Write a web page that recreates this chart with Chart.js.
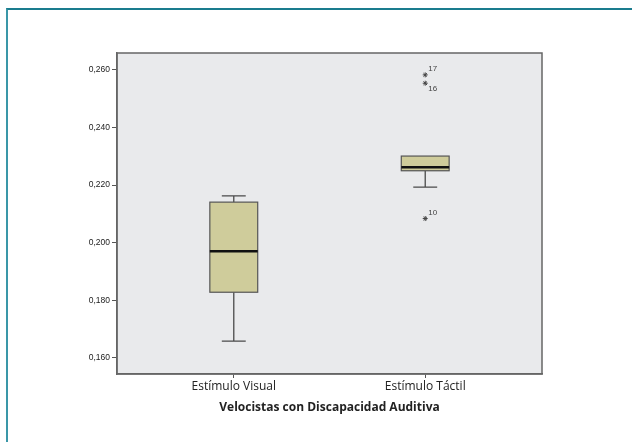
<!DOCTYPE html>
<html>
<head>
<meta charset="utf-8">
<script src="https://cdn.jsdelivr.net/npm/chart.js@4/dist/chart.umd.min.js"></script>
<style>
  html, body { margin: 0; padding: 0; background: #fff; }
  #wrap { position: relative; width: 632px; height: 442px; overflow: hidden; }
  #frame { position: absolute; left: 6px; top: 8px; right: -10px; bottom: -10px;
           border-top: 2px solid #1a7c8e; border-left: 2px solid #3a97a8; }
  canvas { position: absolute; left: 0; top: 0; }
</style>
</head>
<body>
<div id="wrap">
  <div id="frame"></div>
  <canvas id="chart" width="632" height="442"></canvas>
</div>
<script>
// categories and box plot summaries
var categories = ['Estímulo Visual', 'Estímulo Táctil'];
var whiskerLow = [0.1658, 0.2193];
var q1 = [0.1828, 0.2250];
var median = [0.1970, 0.2262];
var q3 = [0.2141, 0.2301];
var whiskerHigh = [0.2163, 0.2301];

// extreme values (stars) with case numbers
var outlierGroup = [1, 1, 1];
var outlierValue = [0.2583, 0.2554, 0.2084];
var outlierCase = ['17', '16', '10'];

var yTicks = [0.160, 0.180, 0.200, 0.220, 0.240, 0.260];

var boxWidth = 0.25;
var capWidth = 0.125;

var boxPlugin = {
    id: 'boxes',
    beforeDraw: function (chart) {
        var a = chart.chartArea, c = chart.ctx;
        c.save();
        c.fillStyle = '#e9eaec';
        c.fillRect(a.left, a.top, a.right - a.left, a.bottom - a.top);
        c.restore();
    },
    afterDatasetsDraw: function (chart) {
        var c = chart.ctx, x = chart.scales.x, y = chart.scales.y;
        c.save();
        categories.forEach(function (cat, i) {
            var xl = x.getPixelForValue(i - boxWidth / 2);
            var xr = x.getPixelForValue(i + boxWidth / 2);
            var xc = x.getPixelForValue(i);
            var cl = x.getPixelForValue(i - capWidth / 2);
            var cr = x.getPixelForValue(i + capWidth / 2);
            var yq1 = y.getPixelForValue(q1[i]);
            var yq3 = y.getPixelForValue(q3[i]);
            var ylo = y.getPixelForValue(whiskerLow[i]);
            var yhi = y.getPixelForValue(whiskerHigh[i]);
            var ymed = y.getPixelForValue(median[i]);

            c.strokeStyle = '#4a4a4a';
            c.lineWidth = 1.3;
            c.beginPath();
            c.moveTo(xc, yq1); c.lineTo(xc, ylo);
            c.moveTo(cl, ylo); c.lineTo(cr, ylo);
            if (whiskerHigh[i] > q3[i]) {
                c.moveTo(xc, yq3); c.lineTo(xc, yhi);
                c.moveTo(cl, yhi); c.lineTo(cr, yhi);
            }
            c.stroke();

            c.fillStyle = '#cfcc9b';
            c.fillRect(xl, yq3, xr - xl, yq1 - yq3);
            c.lineWidth = 1.2;
            c.strokeStyle = '#555';
            c.strokeRect(xl, yq3, xr - xl, yq1 - yq3);

            c.strokeStyle = '#111';
            c.lineWidth = 2.5;
            c.beginPath();
            c.moveTo(xl, ymed); c.lineTo(xr, ymed);
            c.stroke();
        });

        // case labels next to the stars
        c.fillStyle = '#444';
        c.font = '8px "Liberation Sans", Arial, sans-serif';
        c.textAlign = 'left';
        c.textBaseline = 'middle';
        outlierValue.forEach(function (v, k) {
            var px = x.getPixelForValue(outlierGroup[k]);
            var py = y.getPixelForValue(v);
            var dy = (outlierCase[k] === '16') ? 6 : -6;
            c.fillText(outlierCase[k], px + 3, py + dy);
        });

        // plot frame
        var a = chart.chartArea;
        c.strokeStyle = '#666';
        c.lineWidth = 1.5;
        c.strokeRect(a.left, a.top, a.right - a.left, a.bottom - a.top);
        c.restore();
    }
};

var ctx = document.getElementById('chart');
var chart = new Chart(ctx, {
    type: 'scatter',
    data: {
        datasets: [{
            data: outlierValue.map(function (v, k) { return { x: outlierGroup[k], y: v }; }),
            pointStyle: 'star',
            radius: 2.5,
            borderColor: '#444',
            borderWidth: 1,
            backgroundColor: '#444'
        }]
    },
    plugins: [boxPlugin],
    options: {
        responsive: false,
        animation: false,
        events: [],
        layout: { padding: { top: 53, right: 90, left: 0, bottom: 27 } },
        plugins: { legend: { display: false }, tooltip: { enabled: false } },
        scales: {
            x: {
                type: 'linear',
                min: -0.61,
                max: 1.61,
                afterBuildTicks: function (s) {
                    s.ticks = categories.map(function (c, i) { return { value: i }; });
                },
                afterFit: function (s) { s.height = 41; },
                ticks: {
                    autoSkip: false,
                    maxRotation: 0,
                    padding: 1,
                    color: '#222',
                    font: { family: '"Open Sans", sans-serif', size: 12 },
                    callback: function (v) { return categories[v]; }
                },
                grid: { drawOnChartArea: false, drawTicks: true, tickLength: 4, color: '#555', lineWidth: 1 },
                border: { display: true, color: '#666', width: 1.5 },
                title: {
                    display: true,
                    text: 'Velocistas con Discapacidad Auditiva',
                    color: '#222',
                    padding: { top: 1, bottom: 0 },
                    font: { family: '"Open Sans", sans-serif', size: 12, weight: 'bold' }
                }
            },
            y: {
                min: 0.1544,
                max: 0.2659,
                afterBuildTicks: function (s) {
                    s.ticks = yTicks.map(function (v) { return { value: v }; });
                },
                afterFit: function (s) { s.width = 117; },
                ticks: {
                    padding: 2,
                    color: '#222',
                    font: { family: '"Liberation Sans", Arial, sans-serif', size: 8.5 },
                    callback: function (v) { return v.toFixed(3).replace('.', ','); }
                },
                grid: { drawOnChartArea: false, drawTicks: true, tickLength: 5, color: '#555', lineWidth: 1 },
                border: { display: true, color: '#666', width: 1.5 }
            }
        }
    }
});
</script>
</body>
</html>
